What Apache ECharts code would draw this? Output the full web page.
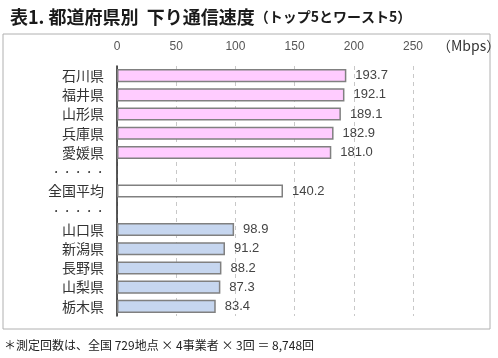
<!DOCTYPE html>
<html><head><meta charset="utf-8">
<script src="https://cdn.jsdelivr.net/npm/echarts@6/dist/echarts.min.js"></script>
<style>html,body{margin:0;padding:0;background:#fff}#c{width:498px;height:358px}</style>
</head><body><div id="c"></div>
<script>
const categories = ['石川県','福井県','山形県','兵庫県','愛媛県','· · · · ·','全国平均','· · · · ·','山口県','新潟県','長野県','山梨県','栃木県'];
const values = [193.7, 192.1, 189.1, 182.9, 181.0, null, 140.2, null, 98.9, 91.2, 88.2, 87.3, 83.4];
const groups = ['top','top','top','top','top','gap','avg','gap','worst','worst','worst','worst','worst'];
const tickValues = [0, 50, 100, 150, 200, 250];

const fill = {top:'#FFCCFF', avg:'#FFFFFF', worst:'#C6D6EF', gap:'#FFFFFF'};
const FF = '"Liberation Sans", "Noto Sans CJK JP", sans-serif';
const JP = '"Noto Sans CJK JP", sans-serif';
const chart = echarts.init(document.getElementById('c'));
chart.setOption({
  animation:false,
  textStyle:{fontFamily:FF},
  title:{
    left:5, top:3,
    text:'{a|表1. 都道府県別  下り通信速度}{b|（トップ5とワースト5）}',
    textStyle:{rich:{
      a:{fontSize:18, fontWeight:'bold', color:'#1a1a1a', fontFamily:JP},
      b:{fontSize:14, fontWeight:'bold', color:'#1a1a1a', fontFamily:JP}
    }}
  },
  grid:{left:117, top:66, width:296, height:250, containLabel:false},
  xAxis:{
    type:'value', position:'top', min:0, max:250, interval:50,
    axisLine:{show:false}, axisTick:{show:false},
    axisLabel:{color:'#555', fontSize:12, margin:13},
    splitLine:{show:true, lineStyle:{type:[4,4], color:'#c8c8c8', width:1}}
  },
  yAxis:{
    type:'category', data:categories, inverse:true,
    axisLine:{show:true, lineStyle:{color:'#222', width:1.5}},
    axisTick:{show:false},
    axisLabel:{color:'#333', fontSize:14, margin:13, fontFamily:JP}
  },
  series:[{
    type:'bar', barCategoryGap:'32%',
    data:values.map((v,i)=>({value:v, itemStyle:{color:fill[groups[i]], borderColor:'#808080', borderWidth:1.5}})),
    label:{show:true, position:'right', distance:9, color:'#444', fontSize:13,
      formatter:p=>p.value==null?'':Number(p.value).toFixed(1)}
  }],
  graphic:[
    {type:'rect', shape:{x:3, y:34, width:487, height:295}, style:{fill:'none', stroke:'#b0b0b0', lineWidth:1}, z:-1},
    {type:'text', left:437, top:39, style:{text:'（Mbps）', font:'14px "Noto Sans CJK JP", sans-serif', fill:'#333'}},
    {type:'text', left:4, top:339, style:{text:'＊測定回数は、全国 729地点 × 4事業者 × 3回 ＝ 8,748回', font:'12px "Noto Sans CJK JP", sans-serif', fill:'#222'}}
  ]
});
</script></body></html>
